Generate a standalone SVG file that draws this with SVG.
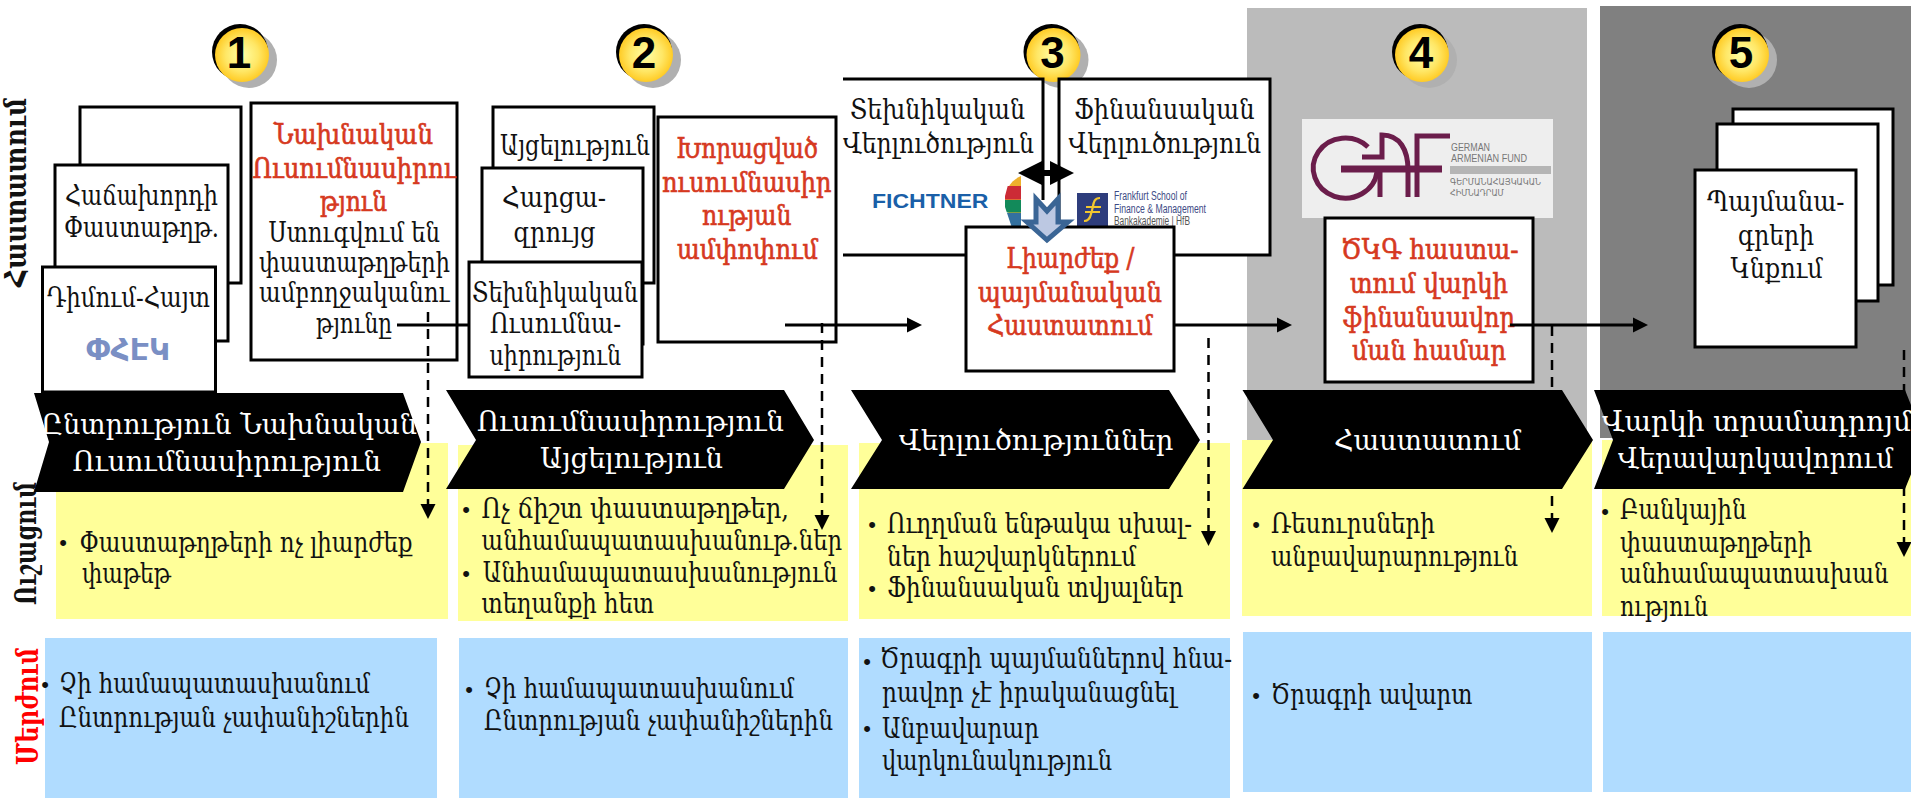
<svg xmlns="http://www.w3.org/2000/svg" xmlns:xlink="http://www.w3.org/1999/xlink" width="1911" height="801" viewBox="0 0 1911 801">
<style>
text{font-family:"DejaVu Serif","Noto Sans",serif;font-size:28px;fill:#111}
.r{fill:#d6391f;stroke:#d6391f;stroke-width:.7}
.w{fill:#fff}
.b{font-family:"Liberation Sans",sans-serif;font-size:22px;text-anchor:middle}
.s{font-weight:bold;font-size:29px}
.box{fill:#fff;stroke:#000;stroke-width:3}
.ch{fill:#000}
.y{fill:#ffff99}
.bl{fill:#b0dcff}
.sl{stroke:#000;stroke-width:3;fill:none}
.dl{stroke:#000;stroke-width:2.5;stroke-dasharray:10 7;fill:none}
.num{font-family:"Liberation Sans",sans-serif;font-weight:bold;font-size:44px;text-anchor:middle;fill:#000}
.gaf{fill:none;stroke:#6b1d4b;stroke-width:5}
</style>
<defs>
<marker id="ah" markerUnits="userSpaceOnUse" markerWidth="16" markerHeight="16" refX="7" refY="8" orient="auto"><path d="M0,0.5 L15,8 L0,15.5 Z" fill="#000"/></marker>
<radialGradient id="gold" cx="0.5" cy="0.5" r="0.55"><stop offset="0" stop-color="#ffffa6"/><stop offset="0.55" stop-color="#ffe766"/><stop offset="1" stop-color="#ffc414"/></radialGradient>
<g id="badge"><circle cx="249" cy="60" r="28" fill="#b0b0b0"/><circle cx="240" cy="52" r="28" fill="#000"/><circle cx="242" cy="55" r="27" fill="url(#gold)"/></g>
<clipPath id="cc"><rect x="1000" y="170" width="21" height="60"/></clipPath>
</defs>

<rect x="1247" y="8" width="340" height="432" fill="#bbbbbb"/>
<rect x="1600" y="6" width="311" height="432" fill="#808080"/>

<g id="yellow-row">
<rect class="y" x="56" y="443" width="392" height="176"/>
<rect class="y" x="458" y="445" width="390" height="176"/>
<rect class="y" x="859" y="443" width="371" height="176"/>
<rect class="y" x="1242" y="440" width="350" height="176"/>
<rect class="y" x="1602" y="440" width="309" height="176"/>
</g>
<g id="blue-row">
<rect class="bl" x="45" y="638" width="392" height="160"/>
<rect class="bl" x="459" y="638" width="389" height="160"/>
<rect class="bl" x="859" y="638" width="371" height="160"/>
<rect class="bl" x="1243" y="632" width="349" height="160"/>
<rect class="bl" x="1603" y="632" width="308" height="160"/>
</g>

<g id="side-labels">
<text class="s" transform="translate(26,287) rotate(-90)" textLength="189" lengthAdjust="spacingAndGlyphs">Հաստատում</text>
<text class="s" transform="translate(36,605) rotate(-90)" textLength="123" lengthAdjust="spacingAndGlyphs">Ուշացում</text>
<text class="s" style="fill:#f00" transform="translate(38,765) rotate(-90)" textLength="117" lengthAdjust="spacingAndGlyphs">Մերժում</text>
</g>

<g id="badge-1"><use href="#badge"/><text class="num" x="239" y="68">1</text></g>
<g id="badge-2" transform="translate(404,0)"><use href="#badge"/><text class="num" x="240" y="68">2</text></g>
<g id="badge-3" transform="translate(811.5,0)"><use href="#badge"/><text class="num" x="241" y="68">3</text></g>
<g id="badge-5" transform="translate(1500,0)"><use href="#badge"/><text class="num" x="241" y="68">5</text></g>
<g id="badge-4" transform="translate(1180,0)"><use href="#badge"/><text class="num" x="241" y="68">4</text></g>

<g id="docs-1">
<rect class="box" x="80" y="107" width="161" height="176"/>
<rect class="box" x="55" y="165" width="173" height="176"/>
<text x="65" y="205" textLength="153" lengthAdjust="spacingAndGlyphs">Հաճախորդի</text>
<text x="64" y="237" textLength="155" lengthAdjust="spacingAndGlyphs">Փաստաթղթ.</text>
<rect class="box" x="42.5" y="267" width="173" height="125"/>
<text x="47" y="307" textLength="163" lengthAdjust="spacingAndGlyphs">Դիմում-Հայտ</text>
<text x="128" y="360" text-anchor="middle" textLength="84" lengthAdjust="spacingAndGlyphs" style="font-family:'DejaVu Sans',sans-serif;font-size:30px;fill:#7a8fc4;font-weight:bold">ՓՀԷԿ</text>
</g>

<g id="prelim-study">
<rect class="box" x="251" y="103" width="206" height="257"/>
<text class="r" x="274" y="144" textLength="159" lengthAdjust="spacingAndGlyphs">Նախնական</text>
<text class="r" x="252.5" y="178" textLength="203" lengthAdjust="spacingAndGlyphs">Ուսումնասիրու</text>
<text class="r" x="320" y="211" textLength="67" lengthAdjust="spacingAndGlyphs">թյուն</text>
<text x="268.5" y="242" textLength="171.5" lengthAdjust="spacingAndGlyphs">Ստուգվում են</text>
<text x="259" y="272" textLength="191" lengthAdjust="spacingAndGlyphs">փաստաթղթերի</text>
<text x="259" y="302" textLength="190.5" lengthAdjust="spacingAndGlyphs">ամբողջականու</text>
<text x="316" y="333" textLength="76" lengthAdjust="spacingAndGlyphs">թյունը</text>
</g>

<g id="docs-2">
<rect class="box" x="493" y="107" width="161" height="176"/>
<text x="500" y="155" textLength="150" lengthAdjust="spacingAndGlyphs">Այցելություն</text>
<rect class="box" x="482" y="168" width="161" height="176"/>
<text x="502" y="207" textLength="104" lengthAdjust="spacingAndGlyphs">Հարցա-</text>
<text x="513.5" y="242" textLength="82" lengthAdjust="spacingAndGlyphs">զրույց</text>
<rect class="box" x="469" y="262" width="173" height="115"/>
<text x="472" y="302" textLength="166" lengthAdjust="spacingAndGlyphs">Տեխնիկական</text>
<text x="490" y="333" textLength="131" lengthAdjust="spacingAndGlyphs">Ուսումնա-</text>
<text x="489.5" y="365" textLength="131.5" lengthAdjust="spacingAndGlyphs">սիրություն</text>
</g>

<g id="detailed-study">
<rect class="box" x="658" y="117" width="178" height="225"/>
<text class="r" x="676" y="158" textLength="142" lengthAdjust="spacingAndGlyphs">Խորացված</text>
<text class="r" x="662" y="192" textLength="169.5" lengthAdjust="spacingAndGlyphs">ուսումնասիր</text>
<text class="r" x="702" y="225" textLength="89.5" lengthAdjust="spacingAndGlyphs">ության</text>
<text class="r" x="677" y="259" textLength="141" lengthAdjust="spacingAndGlyphs">ամփոփում</text>
</g>

<g id="tech-review">
<path class="sl" d="M843,79 H1043 V200 M843,255 H966"/>
<text x="850" y="119" textLength="175" lengthAdjust="spacingAndGlyphs">Տեխնիկական</text>
<text x="843" y="153" textLength="191" lengthAdjust="spacingAndGlyphs">Վերլուծություն</text>
<text x="872" y="208" textLength="116.5" lengthAdjust="spacingAndGlyphs" style="font-family:'Liberation Sans',sans-serif;font-weight:bold;font-size:20px;fill:#1a5fa8">FICHTNER</text>
</g>
<g id="fin-review">
<rect class="box" x="1059" y="79" width="211" height="176"/>
<text x="1074" y="119" textLength="180.5" lengthAdjust="spacingAndGlyphs">Ֆինանսական</text>
<text x="1068.5" y="153" textLength="192.5" lengthAdjust="spacingAndGlyphs">Վերլուծություն</text>
<rect x="1077" y="193" width="31" height="33" fill="#2e3d7c"/>
<path d="M1100,198 C1092,198 1094,206 1091,214 C1090,219 1087,221 1084,221 M1086,207 H1101 M1085,212 H1100" fill="none" stroke="#f2c62e" stroke-width="2.2"/>
<text x="1114" y="200" textLength="73" lengthAdjust="spacingAndGlyphs" style="font-family:'Liberation Sans',sans-serif;font-size:12px;fill:#3c4a85">Frankfurt School of</text>
<text x="1114" y="213" textLength="92" lengthAdjust="spacingAndGlyphs" style="font-family:'Liberation Sans',sans-serif;font-size:12px;fill:#3c4a85">Finance &amp; Management</text>
<text x="1114" y="225" textLength="76" lengthAdjust="spacingAndGlyphs" style="font-family:'Liberation Sans',sans-serif;font-size:12px;fill:#555">Bankakademie | HfB</text>
</g>
<g id="logo-ring" clip-path="url(#cc)">
<ellipse cx="1031" cy="200" rx="26" ry="26" fill="#eeb02c"/>
<rect x="1000" y="186" width="21" height="13.5" fill="#cc2b36"/>
<rect x="1000" y="200" width="21" height="12.5" fill="#128a5a"/>
<path d="M1000,213 H1021 V230 H1000 Z" fill="#33709f"/>
<path d="M1000,170 H1012 L1005,196 V207 L1012,228 V230 H1000 Z" fill="#fff"/>
</g>

<g id="conditional-approval">
<rect class="box" x="966" y="227" width="208" height="144"/>
<text class="r" x="1006" y="268" textLength="128.5" lengthAdjust="spacingAndGlyphs">Լիարժեք /</text>
<text class="r" x="978" y="302" textLength="184" lengthAdjust="spacingAndGlyphs">պայմանական</text>
<text class="r" x="987" y="335" textLength="165.6" lengthAdjust="spacingAndGlyphs">Հաստատում</text>
</g>

<g id="gaf-logo">
<rect x="1302" y="119" width="251" height="99" fill="#eeeeee"/>
<path class="gaf" d="M1368,147 A32,30 0 1 0 1377,172"/>
<path class="gaf" d="M1362,157 H1382 V135 C1400,135 1408,150 1408,170 V197"/>
<path class="gaf" d="M1380,170 V197 M1417,197 V136 H1450"/>
<path class="gaf" style="stroke-width:7" d="M1341,169 H1442"/>
<text x="1451" y="151" textLength="39" lengthAdjust="spacingAndGlyphs" style="font-family:'Liberation Sans',sans-serif;font-size:11px;fill:#777">GERMAN</text>
<text x="1451" y="162" textLength="76" lengthAdjust="spacingAndGlyphs" style="font-family:'Liberation Sans',sans-serif;font-size:11px;fill:#777">ARMENIAN FUND</text>
<rect x="1450" y="166" width="101" height="8" fill="#b5b5b5"/>
<text x="1450" y="185" textLength="91" lengthAdjust="spacingAndGlyphs" style="font-family:'DejaVu Sans',sans-serif;font-size:9px;fill:#777">ԳԵՐՄԱՆԱՀԱՅԿԱԿԱՆ</text>
<text x="1450" y="196" textLength="54" lengthAdjust="spacingAndGlyphs" style="font-family:'DejaVu Sans',sans-serif;font-size:9px;fill:#777">ՀԻՄՆԱԴՐԱՄ</text>
</g>

<g id="gnc-approval">
<rect class="box" x="1325" y="218" width="208" height="164"/>
<text class="r" x="1341" y="259" textLength="177.5" lengthAdjust="spacingAndGlyphs">ԾԿԳ հաստա-</text>
<text class="r" x="1350" y="293" textLength="158" lengthAdjust="spacingAndGlyphs">տում վարկի</text>
<text class="r" x="1343" y="327" textLength="172" lengthAdjust="spacingAndGlyphs">ֆինանսավոր</text>
<text class="r" x="1352" y="360" textLength="154" lengthAdjust="spacingAndGlyphs">ման համար</text>
</g>

<g id="docs-5">
<rect class="box" x="1733" y="109" width="160" height="176"/>
<rect class="box" x="1717" y="124" width="161" height="177"/>
<rect class="box" x="1695" y="170" width="161" height="177"/>
<text x="1707" y="211" textLength="137.5" lengthAdjust="spacingAndGlyphs">Պայմանա-</text>
<text x="1738" y="245" textLength="76" lengthAdjust="spacingAndGlyphs">գրերի</text>
<text x="1730.6" y="278" textLength="92" lengthAdjust="spacingAndGlyphs">Կնքում</text>
</g>

<g id="connectors">
<line class="sl" x1="397" y1="325" x2="469" y2="325"/>
<line class="sl" x1="785" y1="325" x2="914" y2="325" marker-end="url(#ah)"/>
<line class="sl" x1="1174" y1="325" x2="1284" y2="325" marker-end="url(#ah)"/>
<line class="sl" x1="1510" y1="325" x2="1640" y2="325" marker-end="url(#ah)"/>
<line class="dl" x1="428" y1="312" x2="428" y2="511" marker-end="url(#ah)"/>
<line class="dl" x1="822" y1="323" x2="822" y2="522" marker-end="url(#ah)"/>
<line class="dl" x1="1208.5" y1="338" x2="1208.5" y2="538" marker-end="url(#ah)"/>
<line class="dl" x1="1552" y1="326" x2="1552" y2="525" marker-end="url(#ah)"/>
<line class="dl" x1="1904" y1="350" x2="1904" y2="549" marker-end="url(#ah)"/>
<line class="sl" x1="1024" y1="173" x2="1066" y2="173" style="stroke-width:6"/>
<path d="M1018,173 L1042,161 V185 Z M1074,173 L1050,161 V185 Z" fill="#000"/>
<path d="M1036,199 L1047,211 L1058,199 V222 H1068 L1047,240 L1027,222 H1036 Z" fill="#bcc8e2" stroke="#3a6595" stroke-width="5"/>
</g>

<g id="stage-1"><polygon class="ch" points="34,393 403,393 421,442 403,492 34,492 49,442"/>
<text class="w" x="41" y="434" textLength="376" lengthAdjust="spacingAndGlyphs">Ընտրություն Նախնական</text>
<text class="w" x="72.4" y="471" textLength="308.6" lengthAdjust="spacingAndGlyphs">Ուսումնասիրություն</text></g>
<g id="stage-2"><polygon class="ch" points="446,390 784,390 814,440 784,489 446,489 476,440"/>
<text class="w" x="477" y="431" textLength="307" lengthAdjust="spacingAndGlyphs">Ուսումնասիրություն</text>
<text class="w" x="540" y="468" textLength="183" lengthAdjust="spacingAndGlyphs">Այցելություն</text></g>
<g id="stage-3"><polygon class="ch" points="851,390 1169,390 1200,440 1169,489 851,489 882,440"/>
<text class="w" x="899" y="450" textLength="274.4" lengthAdjust="spacingAndGlyphs">Վերլուծություններ</text></g>
<g id="stage-4"><polygon class="ch" points="1242.5,390 1562,390 1593,440 1562,489 1242.5,489 1273,440"/>
<text class="w" x="1334" y="450" textLength="187" lengthAdjust="spacingAndGlyphs">Հաստատում</text></g>
<g id="stage-5"><polygon class="ch" points="1594,390 1905,390 1925,440 1905,489 1594,489 1613,440"/>
<text class="w" x="1602" y="431" textLength="309" lengthAdjust="spacingAndGlyphs">Վարկի տրամադրոյմ</text>
<text class="w" x="1618" y="468" textLength="275" lengthAdjust="spacingAndGlyphs">Վերավարկավորում</text></g>

<g id="risks-1">
<text class="b" x="63" y="550">•</text>
<text x="79.5" y="552" textLength="333" lengthAdjust="spacingAndGlyphs">Փաստաթղթերի ոչ լիարժեք</text>
<text x="82" y="583" textLength="89" lengthAdjust="spacingAndGlyphs">փաթեթ</text>
</g>
<g id="risks-2">
<text class="b" x="466" y="517">•</text>
<text x="481.6" y="518" textLength="307.4" lengthAdjust="spacingAndGlyphs">Ոչ ճիշտ  փաստաթղթեր,</text>
<text x="481.6" y="550" textLength="360.4" lengthAdjust="spacingAndGlyphs">անհամապատասխանութ.ներ</text>
<text class="b" x="466" y="581">•</text>
<text x="482.7" y="582" textLength="354.9" lengthAdjust="spacingAndGlyphs">Անհամապատասխանություն</text>
<text x="481.6" y="613" textLength="172.4" lengthAdjust="spacingAndGlyphs">տեղանքի հետ</text>
</g>
<g id="risks-3">
<text class="b" x="872" y="532">•</text>
<text x="887" y="533" textLength="305" lengthAdjust="spacingAndGlyphs">Ուղղման ենթակա սխալ-</text>
<text x="887" y="566" textLength="249" lengthAdjust="spacingAndGlyphs">ներ հաշվարկներում</text>
<text class="b" x="872" y="596">•</text>
<text x="887" y="597" textLength="296.5" lengthAdjust="spacingAndGlyphs">Ֆինանսական տվյալներ</text>
</g>
<g id="risks-4">
<text class="b" x="1256" y="532">•</text>
<text x="1271" y="533" textLength="164" lengthAdjust="spacingAndGlyphs">Ռեսուրսների</text>
<text x="1271" y="566" textLength="247" lengthAdjust="spacingAndGlyphs">անբավարարություն</text>
</g>
<g id="risks-5">
<text class="b" x="1605" y="519">•</text>
<text x="1620" y="519" textLength="126.5" lengthAdjust="spacingAndGlyphs">Բանկային</text>
<text x="1620" y="552" textLength="192" lengthAdjust="spacingAndGlyphs">փաստաթղթերի</text>
<text x="1620" y="583" textLength="268.6" lengthAdjust="spacingAndGlyphs">անհամապատասխան</text>
<text x="1620" y="616" textLength="88" lengthAdjust="spacingAndGlyphs">ություն</text>
</g>
<g id="reject-1">
<text class="b" x="45" y="692">•</text>
<text x="59" y="693" textLength="311" lengthAdjust="spacingAndGlyphs">Չի համապատասխանում</text>
<text x="59" y="727" textLength="350" lengthAdjust="spacingAndGlyphs">Ընտրության չափանիշներին</text>
</g>
<g id="reject-2">
<text class="b" x="469" y="697">•</text>
<text x="484" y="698" textLength="310" lengthAdjust="spacingAndGlyphs">Չի համապատասխանում</text>
<text x="484" y="730" textLength="349" lengthAdjust="spacingAndGlyphs">Ընտրության չափանիշներին</text>
</g>
<g id="reject-3">
<text class="b" x="867" y="669">•</text>
<text x="880" y="668" textLength="352" lengthAdjust="spacingAndGlyphs">Ծրագրի պայմաններով հնա-</text>
<text x="882" y="702" textLength="294" lengthAdjust="spacingAndGlyphs">րավոր չէ իրականացնել</text>
<text class="b" x="867" y="736">•</text>
<text x="882" y="738" textLength="157" lengthAdjust="spacingAndGlyphs">Անբավարար</text>
<text x="882" y="770" textLength="230" lengthAdjust="spacingAndGlyphs">վարկունակություն</text>
</g>
<g id="reject-4">
<text class="b" x="1256" y="703">•</text>
<text x="1271" y="704" textLength="201.5" lengthAdjust="spacingAndGlyphs">Ծրագրի ավարտ</text>
</g>
</svg>
